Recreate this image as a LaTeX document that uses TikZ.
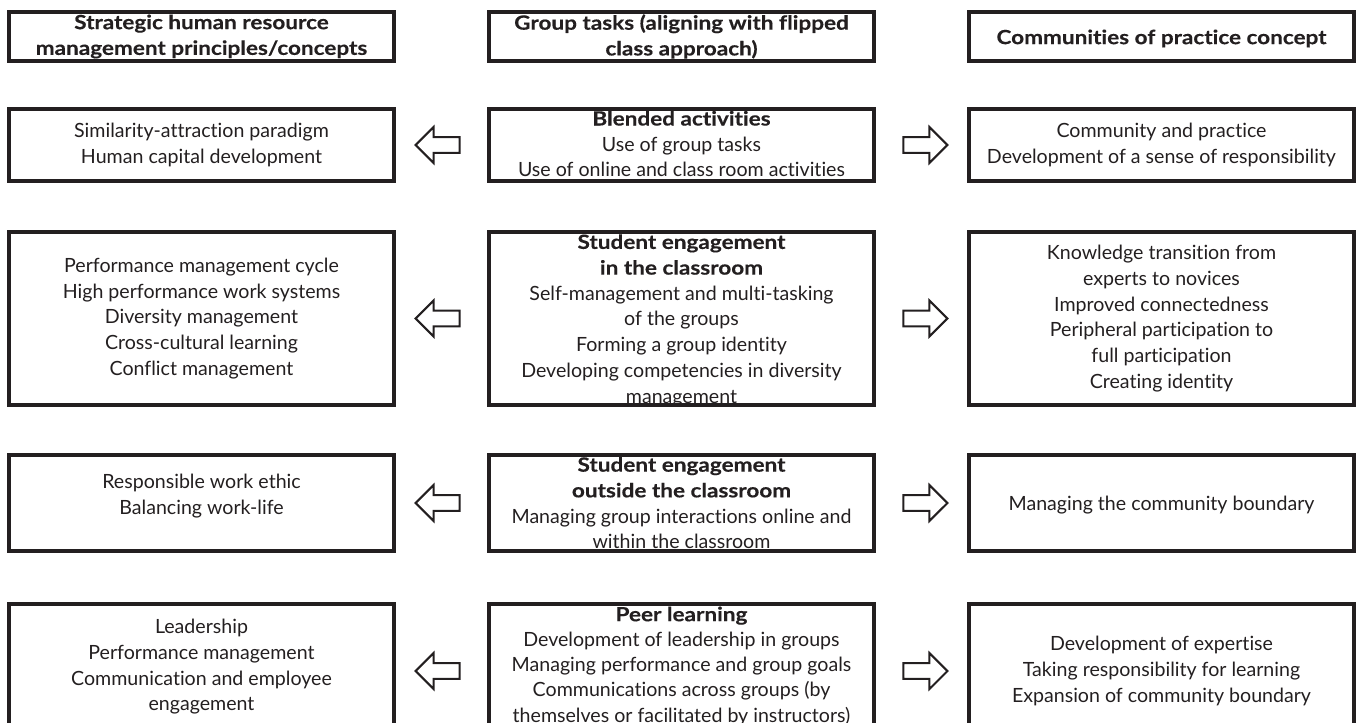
\documentclass[tikz,border=0pt]{standalone}
\usepackage{fontspec}
\setmainfont{Lato}[Ligatures=NoCommon, BoldFeatures={FakeStretch=1.15, FakeBold=0.3}]
\usetikzlibrary{positioning,calc,shapes.arrows}
\definecolor{inkgray}{RGB}{35,31,32}

\begin{document}
\begin{tikzpicture}[
    font=\fontsize{9.8}{12.85}\selectfont, text=inkgray,
    box/.style={draw=inkgray, line width=2pt, inner sep=0pt, minimum width=192.5pt},
    head/.style={box, minimum height=24.5pt},
    rowa/.style={box, minimum height=36pt},
    rowb/.style={box, minimum height=86.5pt},
    rowc/.style={box, minimum height=48pt},
    rowd/.style={box, minimum height=67pt},
    txt/.style={align=center, inner sep=0pt},
    headtxt/.style={txt, font=\fontsize{9.8}{12.85}\selectfont\bfseries},
    blockarr/.style={single arrow, draw=inkgray, line width=1pt, inner xsep=0pt, inner ysep=3.4pt,
      single arrow head extend=5.1pt, minimum height=22pt},
    arrl/.style={blockarr, shape border rotate=180},
    arrr/.style={blockarr}
  ]
    \useasboundingbox (0,0) rectangle (678pt,-361.5pt);

    % --- column headings ---
    \node[head, anchor=north west] (hrm0) at (3.5pt,-5pt) {};
    \node[head] (grp0) [right=45.5pt of hrm0] {};
    \node[head] (cop0) [right=45.5pt of grp0] {};
    \node[headtxt] (hrm0t) at (hrm0.center) {Strategic human resource\\management principles/concepts};
    \node[headtxt] (grp0t) at (grp0.center) {Group tasks (aligning with flipped\\class approach)};
    \node[headtxt] (cop0t) at ([yshift=-1pt]cop0.center) {Communities of practice concept};

    % --- blended activities ---
    \node[rowa] (hrm1) [below=22pt of hrm0] {};
    \node[rowa] (grp1) [right=45.5pt of hrm1] {};
    \node[rowa] (cop1) [right=45.5pt of grp1] {};
    \node[txt] (hrm1t) at (hrm1.center) {Similarity-attraction paradigm\\Human capital development};
    \node[txt] (grp1t) at ([yshift=0.5pt]grp1.center) {\textbf{Blended activities}\\Use of group tasks\\Use of online and class room activities};
    \node[txt] (cop1t) at (cop1.center) {Community and practice\\Development of a sense of responsibility};

    % --- engagement in the classroom ---
    \node[rowb] (hrm2) [below=23.5pt of hrm1] {};
    \node[rowb] (grp2) [right=45.5pt of hrm2] {};
    \node[rowb] (cop2) [right=45.5pt of grp2] {};
    \node[txt] (hrm2t) at (hrm2.center) {Performance management cycle\\High performance work systems\\Diversity management\\Cross-cultural learning\\Conflict management};
    \node[txt] (grp2t) at ([yshift=-1pt]grp2.center) {\textbf{Student engagement}\\\textbf{in the classroom}\\Self-management and multi-tasking\\of the groups\\Forming a group identity\\Developing competencies in diversity\\management};
    \node[txt] (cop2t) at (cop2.center) {Knowledge transition from\\experts to novices\\Improved connectedness\\Peripheral participation to\\full participation\\Creating identity};

    % --- engagement outside the classroom ---
    \node[rowc] (hrm3) [below=23pt of hrm2] {};
    \node[rowc] (grp3) [right=45.5pt of hrm3] {};
    \node[rowc] (cop3) [right=45.5pt of grp3] {};
    \node[txt] (hrm3t) at ([yshift=3.5pt]hrm3.center) {Responsible work ethic\\Balancing work-life};
    \node[txt] (grp3t) at (grp3.center) {\textbf{Student engagement}\\\textbf{outside the classroom}\\Managing group interactions online and\\within the classroom};
    \node[txt] (cop3t) at ([yshift=-1pt]cop3.center) {Managing the community boundary};

    % --- peer learning (boxes run past the bottom edge) ---
    \node[rowd] (hrm4) [below=24.5pt of hrm3] {};
    \node[rowd] (grp4) [right=45.5pt of hrm4] {};
    \node[rowd] (cop4) [right=45.5pt of grp4] {};
    \node[txt] (hrm4t) at ([yshift=2pt]hrm4.center) {Leadership\\Performance management\\Communication and employee\\engagement};
    \node[txt, font=\fontsize{9.8}{12.6}\selectfont] (grp4t) at ([yshift=2.5pt]grp4.center) {\textbf{Peer learning}\\Development of leadership in groups\\Managing performance and group goals\\Communications across groups (by\\themselves or facilitated by instructors)};
    \node[txt] (cop4t) at (cop4.center) {Development of expertise\\Taking responsibility for learning\\Expansion of community boundary};

    % Group tasks -> HRM principles
    \node[arrl] (al1) at ($(hrm1.east)!0.5!(grp1.west)$) {};
    \node[arrl] (al2) at ($(hrm2.east)!0.5!(grp2.west)$) {};
    \node[arrl] (al3) at ($(hrm3.east)!0.5!(grp3.west)$) {};
    \node[arrl] (al4) at ($(hrm4.east)!0.5!(grp4.west)$) {};
    % Group tasks -> communities of practice
    \node[arrr] (ar1) at ($(grp1.east)!0.5!(cop1.west)$) {};
    \node[arrr] (ar2) at ($(grp2.east)!0.5!(cop2.west)$) {};
    \node[arrr] (ar3) at ($(grp3.east)!0.5!(cop3.west)$) {};
    \node[arrr] (ar4) at ($(grp4.east)!0.5!(cop4.west)$) {};
  \end{tikzpicture}
\end{document}
